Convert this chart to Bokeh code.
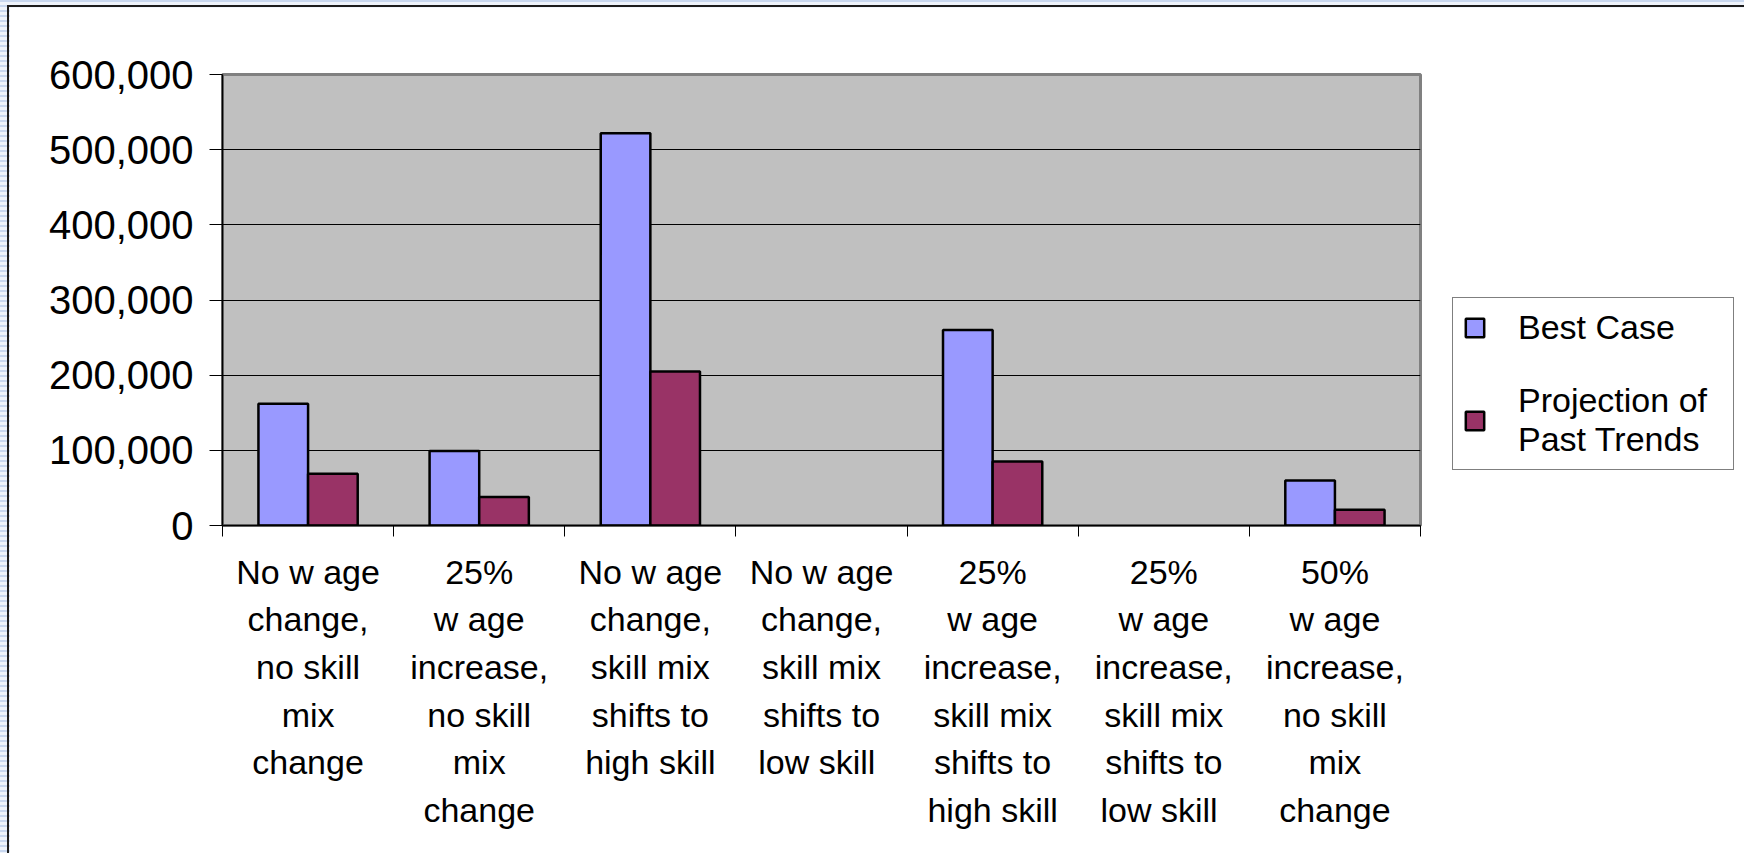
from bokeh.plotting import figure
from bokeh.layouts import column
from bokeh.models import (Range1d, FixedTicker, NumeralTickFormatter, Legend,
                          LegendItem, ColumnDataSource)
from bokeh.embed import file_html
from bokeh.resources import INLINE

# Scenario categories (multi-line labels under the x axis)
scenarios = [
    "No w age\nchange,\nno skill\nmix\nchange",
    "25%\nw age\nincrease,\nno skill\nmix\nchange",
    "No w age\nchange,\nskill mix\nshifts to\nhigh skill",
    "No w age\nchange,\nskill mix\nshifts to\nlow  skill",
    "25%\nw age\nincrease,\nskill mix\nshifts to\nhigh skill",
    "25%\nw age\nincrease,\nskill mix\nshifts to\nlow  skill",
    "50%\nw age\nincrease,\nno skill\nmix\nchange",
]
# None = no bar drawn for that scenario
best_case = [162000, 99000, 522000, None, 260000, None, 60000]
past_trends = [69000, 38000, 205000, None, 85000, None, 21000]
y_ticks = [0, 100000, 200000, 300000, 400000, 500000, 600000]

series_names = ["Best Case", "Projection of\nPast Trends"]
series_colors = ["#9999FF", "#993366"]

FONT = "Liberation Sans"
n = len(scenarios)
centers = [i + 0.5 for i in range(n)]
bounds = [float(i) for i in range(n + 1)]
bar_w = 0.29

src = ColumnDataSource(dict(
    xb=[c - bar_w / 2 for c in centers],
    xp=[c + bar_w / 2 for c in centers],
    best=[float("nan") if v is None else v for v in best_case],
    past=[float("nan") if v is None else v for v in past_trends],
))

p = figure(
    frame_width=1196, frame_height=449,
    min_border_left=213, min_border_top=67,
    min_border_right=326, min_border_bottom=330,
    x_range=Range1d(0, n), y_range=Range1d(0, 600000),
    output_backend="svg", toolbar_location=None,
    background_fill_color="#C0C0C0", border_fill_color="white",
)
p.outline_line_color = "#808080"
p.outline_line_width = 3

rb = p.vbar(x="xb", top="best", width=bar_w, source=src,
            fill_color=series_colors[0], line_color="black", line_width=2.5)
rp = p.vbar(x="xp", top="past", width=bar_w, source=src,
            fill_color=series_colors[1], line_color="black", line_width=2.5)

# x axis: labels at category centres, tick marks on category boundaries
xa = p.xaxis[0]
xa.ticker = FixedTicker(ticks=centers, minor_ticks=bounds)
xa.major_label_overrides = {c: s for c, s in zip(centers, scenarios)}
xa.major_tick_line_color = None
xa.major_tick_out = 0
xa.major_tick_in = 0
xa.minor_tick_line_color = "black"
xa.minor_tick_line_width = 1
xa.minor_tick_out = 11
xa.minor_tick_in = 0
xa.major_label_standoff = 16
xa.major_label_text_font = FONT
xa.major_label_text_font_size = "34px"
xa.major_label_text_line_height = 1.255
xa.major_label_text_color = "black"
xa.axis_line_color = "black"
xa.axis_line_width = 1.5

ya = p.yaxis[0]
ya.ticker = FixedTicker(ticks=y_ticks, minor_ticks=[])
ya.formatter = NumeralTickFormatter(format="0,0")
ya.major_tick_out = 13
ya.major_tick_in = 0
ya.major_tick_line_color = "black"
ya.major_label_standoff = 16
ya.major_label_text_font = FONT
ya.major_label_text_font_size = "40px"
ya.major_label_text_color = "black"
ya.axis_line_color = "black"
ya.axis_line_width = 1.5

p.xgrid.visible = False
p.ygrid.ticker = FixedTicker(ticks=y_ticks)
p.ygrid.grid_line_color = "black"
p.ygrid.grid_line_width = 1

legend = Legend(
    items=[LegendItem(label=series_names[0], renderers=[rb]),
           LegendItem(label=series_names[1], renderers=[rp])],
    location=(32, 55),
    orientation="vertical",
    border_line_color="black", border_line_width=1,
    background_fill_color="white", background_fill_alpha=1,
    label_text_font=FONT, label_text_font_size="34px",
    label_text_color="black",
    label_text_line_height=1.46,
    glyph_width=23, glyph_height=23,
    label_standoff=32, padding=10, spacing=34, margin=0,
    label_width=205,
)
p.add_layout(legend, "right")

p.margin = (5, 0, 0, 7)
p.styles = {"border-left": "2px solid #1c1c1c", "border-top": "2px solid #1c1c1c"}

page = column(p, styles={
    "background": "repeating-linear-gradient(to bottom, #c8d7ef 0px, #c8d7ef 2px, #eef3fb 2px, #eef3fb 5px)"
})

open("out.html", "w").write(file_html(page, INLINE))
